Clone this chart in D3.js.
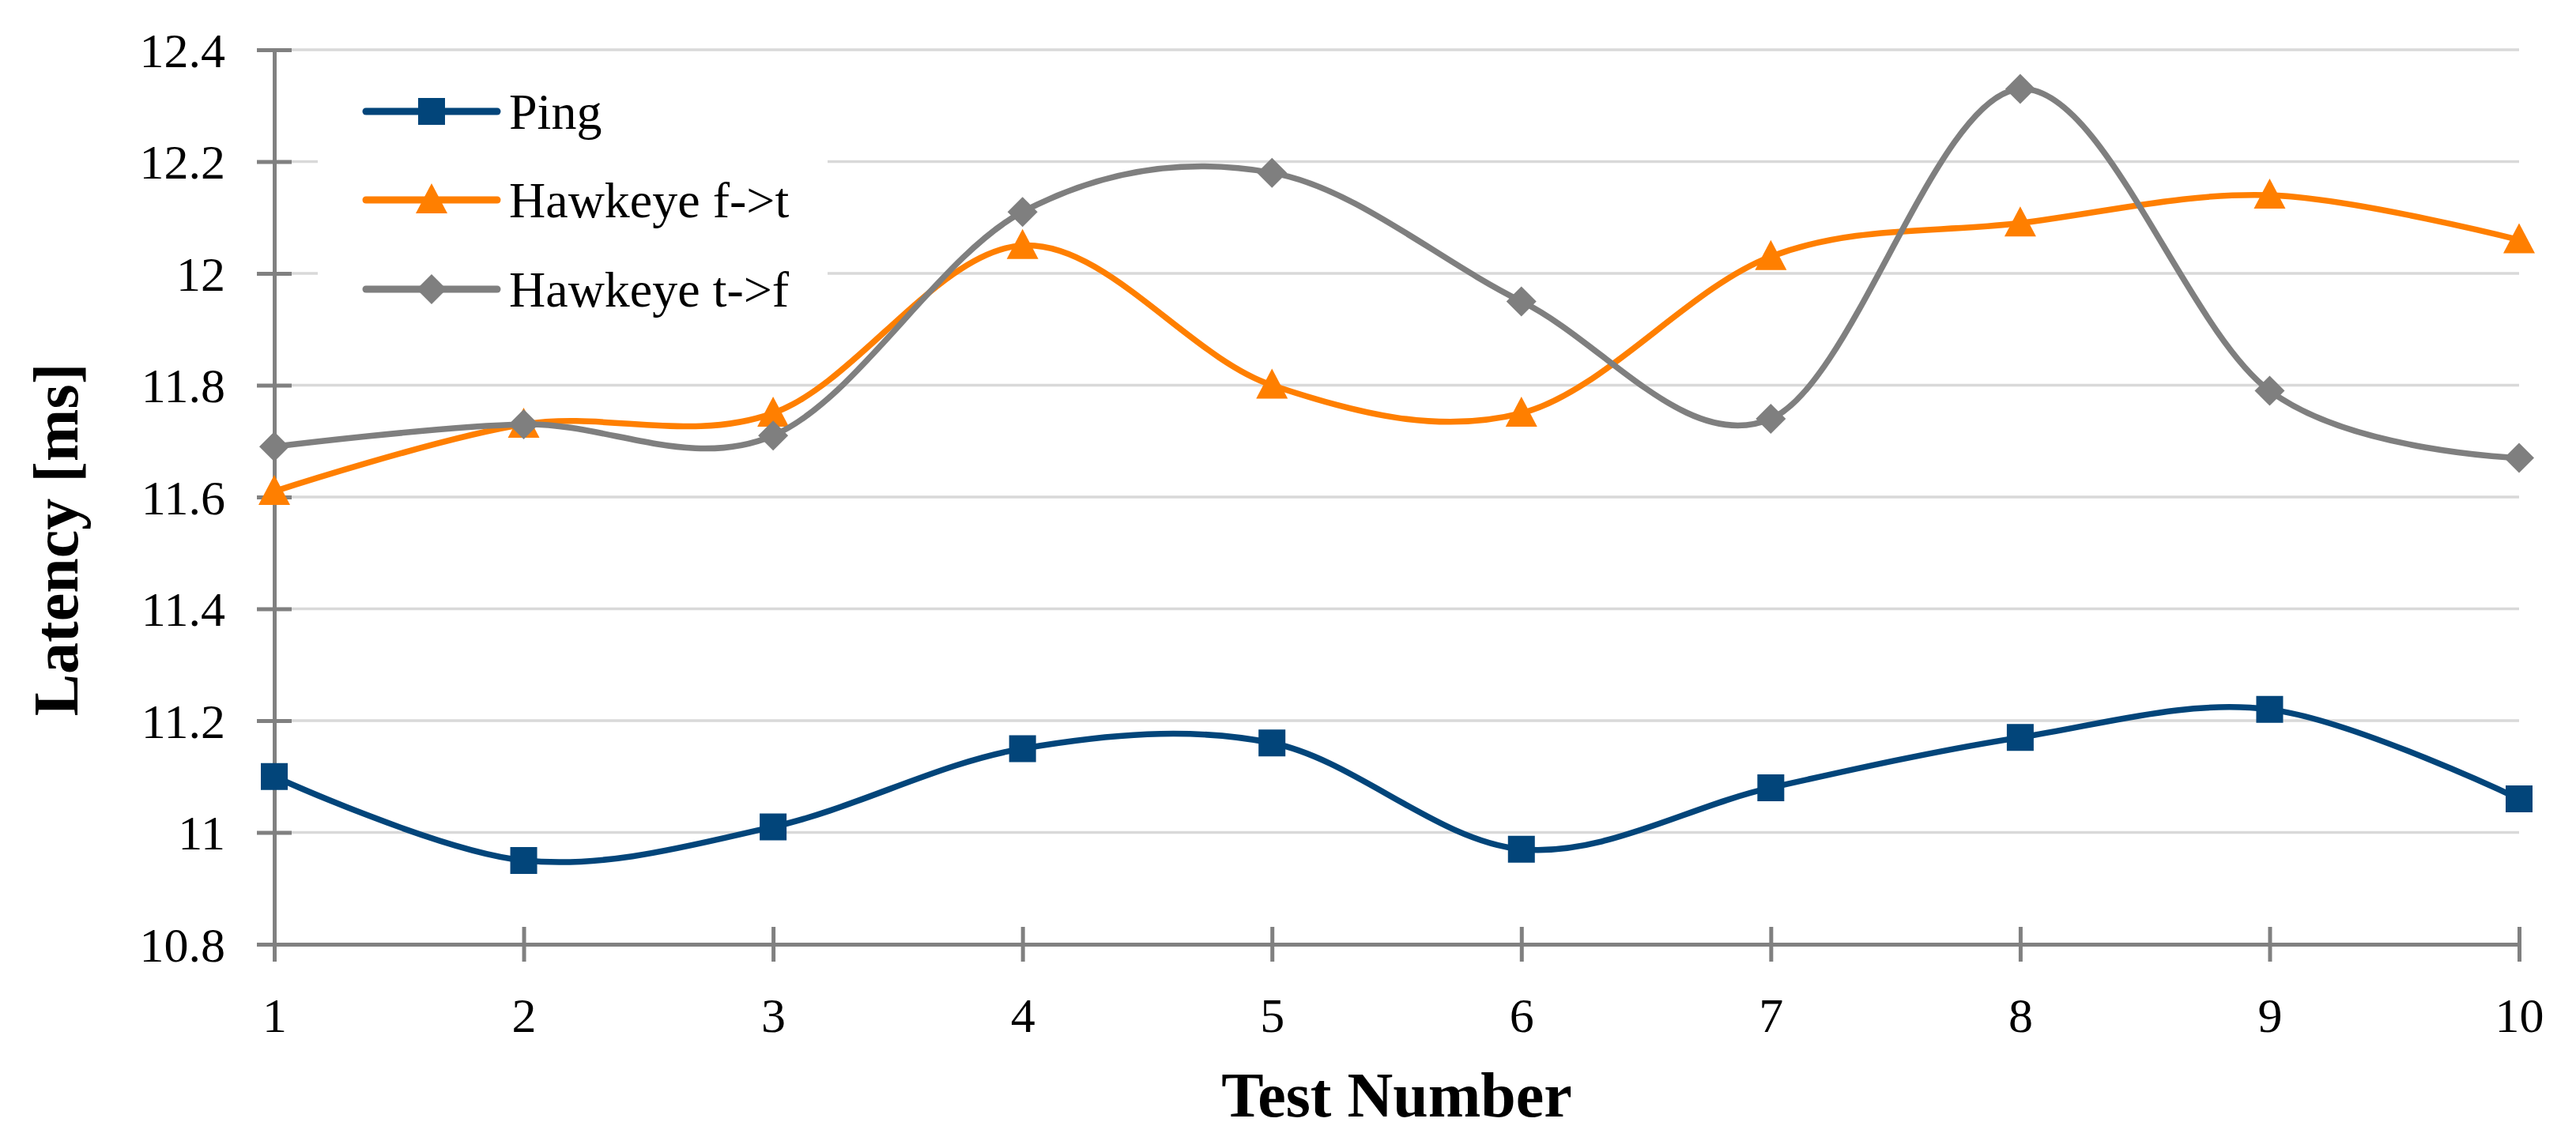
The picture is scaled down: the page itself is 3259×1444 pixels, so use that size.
<!DOCTYPE html>
<html>
<head>
<meta charset="utf-8">
<script src="https://cdn.jsdelivr.net/npm/d3@7"></script>
<style>
  html, body { margin: 0; padding: 0; background: #ffffff; }
  svg { display: block; }
  svg text { font-family: "Liberation Serif", "Times New Roman", serif; }
</style>
</head>
<body>
<svg id="chart" width="3259" height="1444"></svg>
<script>
// ---- data ----
const tests = [1, 2, 3, 4, 5, 6, 7, 8, 9, 10];
const ping = [11.10, 10.95, 11.01, 11.15, 11.16, 10.97, 11.08, 11.17, 11.22, 11.06];
const hawkeyeFT = [11.61, 11.73, 11.75, 12.05, 11.80, 11.75, 12.03, 12.09, 12.14, 12.06];
const hawkeyeTF = [11.69, 11.73, 11.71, 12.11, 12.18, 11.95, 11.74, 12.33, 11.79, 11.67];
const seriesNames = ["Ping", "Hawkeye f->t", "Hawkeye t->f"];
const yTicks = [10.8, 11.0, 11.2, 11.4, 11.6, 11.8, 12.0, 12.2, 12.4];
const yTickLabels = ["10.8", "11", "11.2", "11.4", "11.6", "11.8", "12", "12.2", "12.4"];
const xTickLabels = ["1", "2", "3", "4", "5", "6", "7", "8", "9", "10"];
const xTitle = "Test Number";
const yTitle = "Latency [ms]";

// ---- layout/styles ----
const colors = ["#02457A", "#FF7F00", "#7F7F7F"];
const markers = ["square", "triangle", "diamond"];
const FONT = "\"Liberation Serif\", \"Times New Roman\", serif";
const svg = d3.select("#chart");

const x = d3.scaleLinear().domain([1, 10]).range([347, 3187]);
const y = d3.scaleLinear().domain([10.8, 12.4]).range([1195, 63]);

// gridlines
svg.append("g").selectAll("line")
  .data(yTicks.filter(d => d !== 10.8))
  .join("line")
  .attr("x1", x(1)).attr("x2", x(10))
  .attr("y1", d => y(d)).attr("y2", d => y(d))
  .attr("stroke", "#D9D9D9").attr("stroke-width", 3.5);

// y axis
const yAxis = svg.append("g").attr("transform", `translate(${x(1)},0)`)
  .call(d3.axisLeft(y).tickValues(yTicks).tickFormat((d, i) => yTickLabels[i])
    .tickSizeInner(22).tickSizeOuter(0).tickPadding(40));
yAxis.attr("font-family", null);
yAxis.select(".domain").attr("stroke", "#808080").attr("stroke-width", 5);
yAxis.selectAll(".tick line").attr("x1", -22).attr("x2", 22)
  .attr("stroke", "#808080").attr("stroke-width", 5);
yAxis.selectAll(".tick text").style("font-family", FONT).style("font-size", "62px")
  .attr("fill", "#000").attr("dy", "0.34em");

// x axis
const xAxis = svg.append("g").attr("transform", `translate(0,${y(10.8)})`)
  .call(d3.axisBottom(x).tickValues(tests).tickFormat((d, i) => xTickLabels[i])
    .tickSizeInner(22).tickSizeOuter(0).tickPadding(45));
xAxis.attr("font-family", null);
xAxis.select(".domain").attr("stroke", "#808080").attr("stroke-width", 5);
xAxis.selectAll(".tick line").attr("y1", -22).attr("y2", 22)
  .attr("stroke", "#808080").attr("stroke-width", 5);
xAxis.selectAll(".tick text").style("font-family", FONT).style("font-size", "62px")
  .attr("fill", "#000");

// axis titles
svg.append("text").attr("x", (x(1) + x(10)) / 2).attr("y", 1413)
  .attr("text-anchor", "middle").style("font-family", FONT)
  .style("font-weight", "bold").style("font-size", "80px").text(xTitle);
svg.append("text").attr("transform", "translate(98,683) rotate(-90)")
  .attr("text-anchor", "middle").style("font-family", FONT)
  .style("font-weight", "bold").style("font-size", "80px").text(yTitle);

// marker drawing
function markerPath(type) {
  if (type === "square") return "M-17,-17H17V17H-17Z";
  if (type === "triangle") return "M0,-21L20,17L-20,17Z";
  return "M0,-19L19,0L0,19L-19,0Z";
}

const line = d3.line().x((d, i) => x(tests[i])).y(d => y(d))
  .curve(d3.curveCardinal.tension(0));

const allSeries = [ping, hawkeyeFT, hawkeyeTF];
allSeries.forEach((vals, si) => {
  const g = svg.append("g");
  g.append("path").datum(vals).attr("d", line)
    .attr("fill", "none").attr("stroke", colors[si]).attr("stroke-width", 7.5)
    .attr("stroke-linejoin", "round").attr("stroke-linecap", "round");
  g.selectAll("path.m").data(vals).join("path").attr("class", "m")
    .attr("transform", (d, i) => `translate(${x(tests[i])},${y(d)})`)
    .attr("d", markerPath(markers[si]))
    .attr("fill", colors[si]);
});

// legend
const legend = svg.append("g");
legend.append("rect").attr("x", 402).attr("y", 90).attr("width", 645).attr("height", 330)
  .attr("fill", "#ffffff");
const legendY = [141, 253, 366];
seriesNames.forEach((name, i) => {
  const gy = legendY[i];
  legend.append("line").attr("x1", 463).attr("x2", 629).attr("y1", gy).attr("y2", gy)
    .attr("stroke", colors[i]).attr("stroke-width", 9).attr("stroke-linecap", "round");
  legend.append("path").attr("transform", `translate(546,${gy})`)
    .attr("d", markerPath(markers[i])).attr("fill", colors[i]);
  legend.append("text").attr("x", 644).attr("y", gy).attr("dy", "0.34em")
    .style("font-family", FONT).style("font-size", "64px").attr("fill", "#000").text(name);
});
</script>
</body>
</html>
